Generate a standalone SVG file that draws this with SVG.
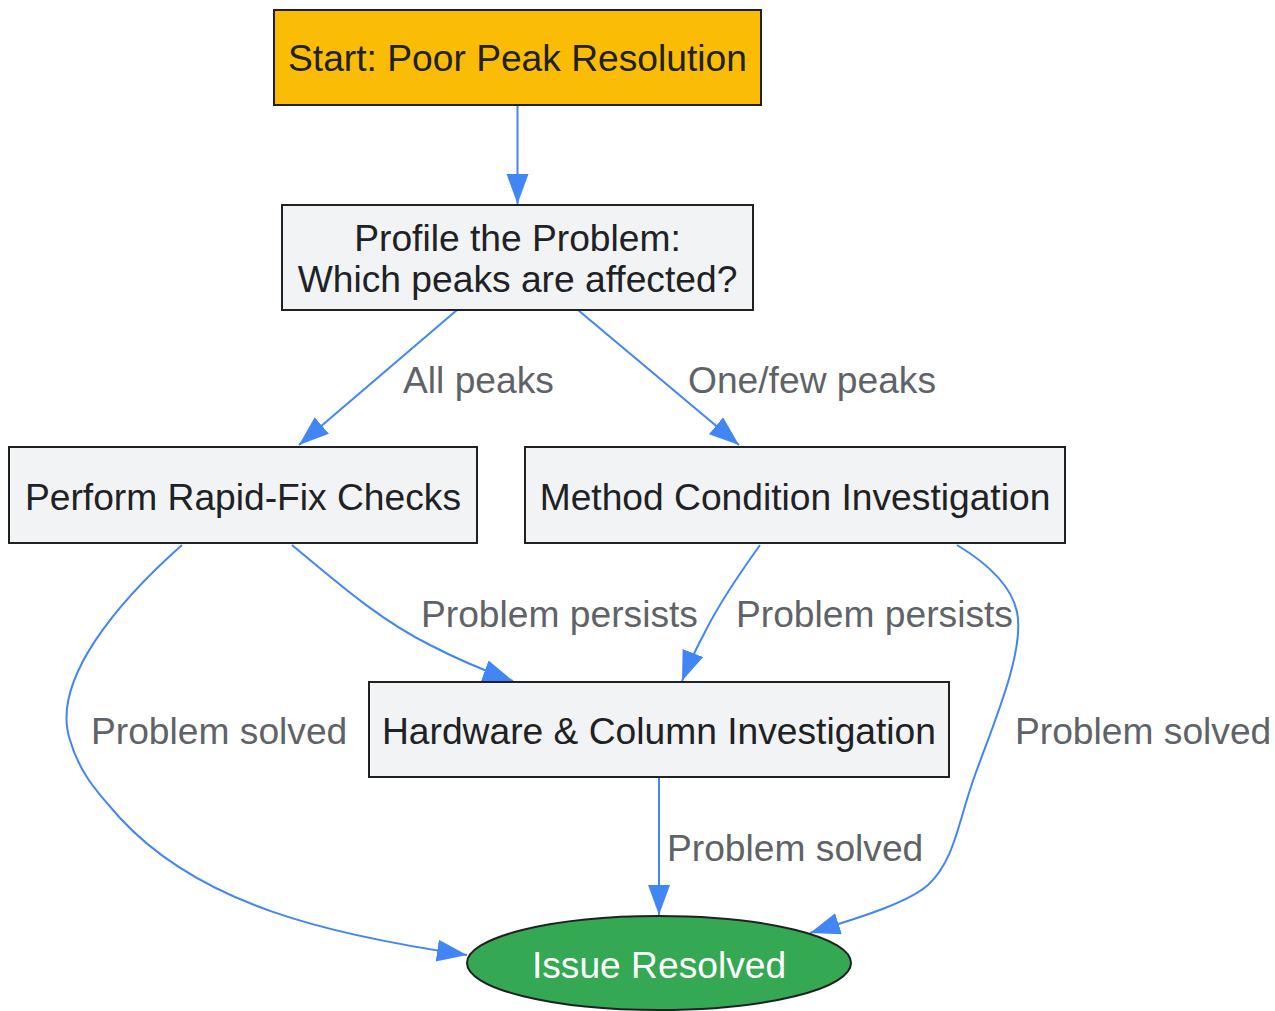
<svg xmlns="http://www.w3.org/2000/svg" width="1275" height="1011" viewBox="0 0 1275 1011">
<defs>
<marker id="arr" markerUnits="userSpaceOnUse" markerWidth="32" markerHeight="24" refX="30" refY="11" orient="auto">
<path d="M0,0 L30,11 L0,22 z" fill="#4285F4"/>
</marker>
<style>
.box{fill:#F1F3F4;stroke:#202124;stroke-width:2}
.t{font-family:"Liberation Sans",Arial,sans-serif;font-size:37.2px;fill:#202124;text-anchor:middle}
.lbl{font-family:"Liberation Sans",Arial,sans-serif;font-size:37.2px;fill:#5f6368}
.e{fill:none;stroke:#4285F4;stroke-width:2;marker-end:url(#arr)}
</style>
</defs>
<rect width="1275" height="1011" fill="#ffffff"/>
<g id="connectors">
<path class="e" d="M517.5,106 L517.5,204"/>
<path class="e" d="M457,310 L299,445"/>
<path class="e" d="M578,310 L739,445"/>
<path class="e" d="M292,545 C340,585 380,620 430,645 C455,658 480,669 513,681"/>
<path class="e" d="M182,545 C120,600 50,680 70,740 C80,775 100,795 120,818 C200,905 330,935 467,955"/>
<path class="e" d="M760,545 C740,573 720,602 706,630 C697,647 689,663 682,681"/>
<path class="e" d="M957,545 C990,565 1012,588 1017,612 C1025,650 995,720 975,775 C958,822 955,860 928,885 C905,905 850,920 810,933"/>
<path class="e" d="M659,778 L659,915"/>
<text class="lbl" x="403" y="393">All peaks</text>
<text class="lbl" x="688" y="393">One/few peaks</text>
<text class="lbl" x="421" y="627">Problem persists</text>
<text class="lbl" x="736" y="627">Problem persists</text>
<text class="lbl" x="91" y="744">Problem solved</text>
<text class="lbl" x="1015" y="744">Problem solved</text>
<text class="lbl" x="667" y="861">Problem solved</text>
</g>
<g id="start">
<rect x="274" y="10" width="487" height="95" fill="#FBBC05" stroke="#202124" stroke-width="2"/>
<text class="t" x="517.5" y="71">Start: Poor Peak Resolution</text>
</g>
<g id="profile">
<rect class="box" x="282" y="205" width="471" height="105"/>
<text class="t" x="517.5" y="251">Profile the Problem:</text>
<text class="t" x="517.5" y="292">Which peaks are affected?</text>
</g>
<g id="rapidfix">
<rect class="box" x="9" y="447" width="468" height="96"/>
<text class="t" x="243" y="510">Perform Rapid-Fix Checks</text>
</g>
<g id="method">
<rect class="box" x="525" y="447" width="540" height="96"/>
<text class="t" x="795" y="510">Method Condition Investigation</text>
</g>
<g id="hardware">
<rect class="box" x="369" y="682" width="580" height="95"/>
<text class="t" x="659" y="744">Hardware &amp; Column Investigation</text>
</g>
<g id="resolved">
<ellipse cx="659" cy="963" rx="192" ry="47" fill="#34A853" stroke="#202124" stroke-width="2"/>
<text class="t" x="659" y="978" style="fill:#ffffff">Issue Resolved</text>
</g>
</svg>
